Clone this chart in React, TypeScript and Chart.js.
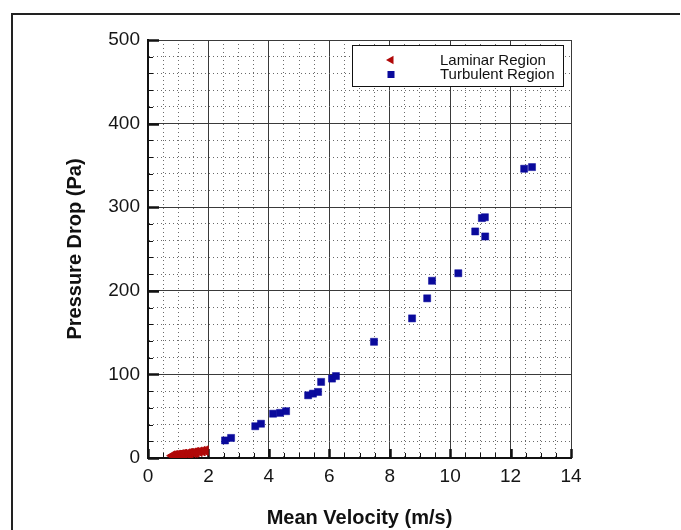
import React, { useEffect, useRef } from 'react';
import { Chart, registerables } from 'chart.js';

Chart.register(...registerables);

// ---- data ----
const laminarVelocity = [0.8, 0.85, 0.9, 0.95, 1.0, 1.05, 1.1, 1.15, 1.2, 1.3, 1.35, 1.4, 1.5, 1.55, 1.6, 1.7, 1.8, 1.9];
const laminarPressure = [2.8, 3.0, 3.2, 3.4, 3.7, 3.9, 4.2, 4.4, 4.7, 5.2, 5.5, 5.8, 6.3, 6.6, 6.9, 7.5, 8.2, 8.8];

const turbulentVelocity = [2.55, 2.75, 3.55, 3.74, 4.14, 4.37, 4.57, 5.3, 5.46, 5.63, 5.73, 6.09, 6.22, 7.48, 8.74, 9.24, 9.4, 10.27, 10.83, 11.05, 11.15, 11.16, 12.45, 12.71];
const turbulentPressure = [21, 24, 38, 41, 53, 54, 56, 75, 77, 79, 91, 95, 98, 139, 167, 191, 212, 221, 271, 287, 288, 265, 346, 348];

const xMajorTicks = [0, 2, 4, 6, 8, 10, 12, 14];
const xTickLabels = ['0', '2', '4', '6', '8', '10', '12', '14'];
const yMajorTicks = [0, 100, 200, 300, 400, 500];
const yTickLabels = ['0', '100', '200', '300', '400', '500'];

const seriesNames = ['Laminar Region', 'Turbulent Region'];
const xTitle = 'Mean Velocity (m/s)';
const yTitle = 'Pressure Drop (Pa)';

const RED = '#b00808';
const BLUE = '#0a0a9c';
const FONT = '"Liberation Sans", Arial, Helvetica, sans-serif';

const isMajorX = (v: number) => xMajorTicks.some((t) => Math.abs(t - v) < 1e-6);
const isMajorY = (v: number) => yMajorTicks.some((t) => Math.abs(t - v) < 1e-6);

const decorPlugin = {
  id: 'decor',
  beforeDraw(chart: any) {
    const ctx = chart.ctx;
    ctx.save();
    ctx.fillStyle = '#ffffff';
    ctx.fillRect(0, 0, chart.width, chart.height);
    ctx.strokeStyle = '#222';
    ctx.lineWidth = 2;
    ctx.beginPath();
    ctx.moveTo(12, chart.height);
    ctx.lineTo(12, 14);
    ctx.lineTo(chart.width - 1, 14);
    ctx.stroke();
    ctx.restore();
  },
  beforeDatasetsDraw(chart: any) {
    const ctx = chart.ctx;
    const xs = chart.scales.x;
    const ys = chart.scales.y;
    const area = chart.chartArea;
    ctx.save();
    ctx.strokeStyle = '#111';
    xs.ticks.forEach((t: any) => {
      const px = Math.round(xs.getPixelForValue(t.value)) + 0.5;
      const major = isMajorX(t.value);
      ctx.lineWidth = major ? 2.5 : 1;
      ctx.beginPath();
      ctx.moveTo(px, area.bottom);
      ctx.lineTo(px, area.bottom - (major ? 9 : 5));
      ctx.stroke();
    });
    ys.ticks.forEach((t: any) => {
      const py = Math.round(ys.getPixelForValue(t.value)) + 0.5;
      const major = isMajorY(t.value);
      ctx.lineWidth = major ? 2.5 : 1;
      ctx.beginPath();
      ctx.moveTo(area.left, py);
      ctx.lineTo(area.left + (major ? 11 : 5), py);
      ctx.stroke();
    });
    ctx.restore();
  },
  afterDatasetsDraw(chart: any) {
    const ctx = chart.ctx;
    ctx.save();
    const bx = 352.5, by = 45.5, bw = 211, bh = 41;
    ctx.fillStyle = '#ffffff';
    ctx.fillRect(bx, by, bw, bh);
    ctx.strokeStyle = '#111';
    ctx.lineWidth = 1;
    ctx.strokeRect(bx, by, bw, bh);
    const mx = 391;
    let my = 60;
    const r = 5;
    ctx.fillStyle = RED;
    ctx.beginPath();
    ctx.moveTo(mx - r, my);
    ctx.lineTo(mx + r * 0.5, my - r * 0.866);
    ctx.lineTo(mx + r * 0.5, my + r * 0.866);
    ctx.closePath();
    ctx.fill();
    my = 74.5;
    ctx.fillStyle = BLUE;
    ctx.fillRect(mx - 3.5, my - 3.5, 7, 7);
    ctx.fillStyle = '#111';
    ctx.font = `15px ${FONT}`;
    ctx.textAlign = 'left';
    ctx.textBaseline = 'middle';
    ctx.fillText(chart.data.datasets[0].label, 440, 61);
    ctx.fillText(chart.data.datasets[1].label, 440, 75);
    ctx.restore();
  },
};

export default function App() {
  const ref = useRef<HTMLCanvasElement | null>(null);

  useEffect(() => {
    if (!ref.current) return;
    const chart = new Chart(ref.current, {
      type: 'scatter',
      data: {
        datasets: [
          {
            label: seriesNames[0],
            data: laminarVelocity.map((x, i) => ({ x, y: laminarPressure[i] })),
            pointStyle: 'triangle',
            rotation: -90,
            pointRadius: 5.5,
            backgroundColor: RED,
            borderColor: RED,
            borderWidth: 1,
          },
          {
            label: seriesNames[1],
            data: turbulentVelocity.map((x, i) => ({ x, y: turbulentPressure[i] })),
            pointStyle: 'rect',
            pointRadius: 5,
            backgroundColor: BLUE,
            borderColor: BLUE,
            borderWidth: 0.5,
          },
        ],
      },
      options: {
        responsive: false,
        animation: false,
        events: [],
        layout: { padding: { left: 0, top: 40, right: 110, bottom: 0 } },
        plugins: {
          legend: { display: false },
          tooltip: { enabled: false },
        },
        scales: {
          x: {
            type: 'linear',
            min: 0,
            max: 14,
            afterFit: (s: any) => {
              s.height = 72;
            },
            ticks: {
              stepSize: 0.5,
              autoSkip: false,
              maxRotation: 0,
              padding: 7,
              color: '#151515',
              font: { family: FONT, size: 19 },
              callback: (v: any) => {
                const i = xMajorTicks.findIndex((t) => Math.abs(t - v) < 1e-6);
                return i >= 0 ? xTickLabels[i] : '';
              },
            },
            grid: {
              drawTicks: false,
              color: (c: any) => (c.tick && isMajorX(c.tick.value) ? '#3a3a3a' : '#6a6a6a'),
              lineWidth: 1,
            },
            border: {
              display: true,
              color: '#111',
              width: 2,
              dash: (c: any) => (c.tick && !isMajorX(c.tick.value) ? [1, 3] : []),
            },
            title: {
              display: true,
              text: xTitle,
              color: '#111',
              font: { family: FONT, size: 20, weight: 'bold', lineHeight: 1 },
              padding: { top: 0, bottom: 2 },
            },
          },
          y: {
            type: 'linear',
            min: 0,
            max: 500,
            afterFit: (s: any) => {
              s.width = 148;
            },
            ticks: {
              stepSize: 20,
              autoSkip: false,
              padding: 8,
              color: '#151515',
              font: { family: FONT, size: 19 },
              callback: (v: any) => {
                const i = yMajorTicks.findIndex((t) => Math.abs(t - v) < 1e-6);
                return i >= 0 ? yTickLabels[i] : '';
              },
            },
            grid: {
              drawTicks: false,
              color: (c: any) => (c.tick && isMajorY(c.tick.value) ? '#3a3a3a' : '#6a6a6a'),
              lineWidth: 1,
            },
            border: {
              display: true,
              color: '#111',
              width: 2,
              dash: (c: any) => (c.tick && !isMajorY(c.tick.value) ? [1, 3] : []),
            },
            title: {
              display: true,
              text: yTitle,
              color: '#111',
              font: { family: FONT, size: 20, weight: 'bold', lineHeight: 1 },
              padding: { top: 65, bottom: 0 },
            },
          },
        },
      },
      plugins: [decorPlugin],
    } as any);
    return () => chart.destroy();
  }, []);

  return (
    <div style={{ position: 'absolute', left: 0, top: 0, width: 681, height: 530, overflow: 'hidden', background: '#fff' }}>
      <canvas ref={ref} width={681} height={530} style={{ display: 'block', width: 681, height: 530 }} />
    </div>
  );
}
